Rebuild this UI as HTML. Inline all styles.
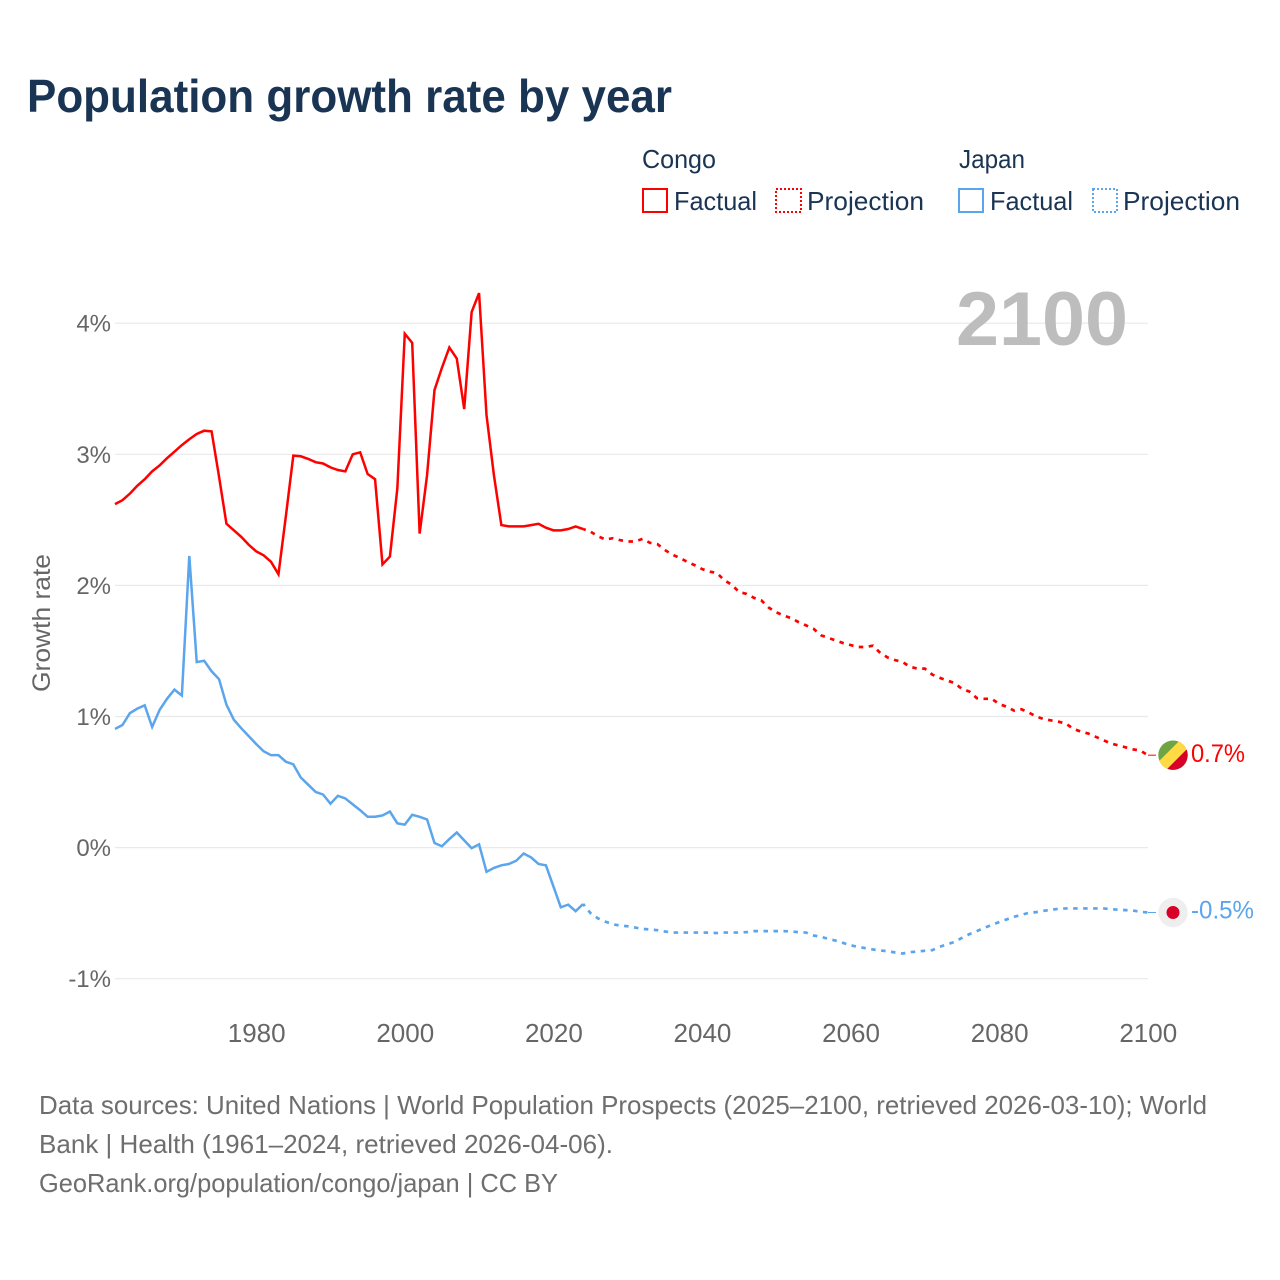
<!DOCTYPE html>
<html lang="en">
<head>
<meta charset="utf-8">
<title>Population growth rate by year</title>
<style>
html,body{margin:0;padding:0;background:#fff;}
svg{display:block;font-family:"Liberation Sans",sans-serif;}
</style>
</head>
<body>
<svg id="chart" xmlns="http://www.w3.org/2000/svg" width="1280" height="1280" viewBox="0 0 1280 1280">
  <rect x="0" y="0" width="1280" height="1280" fill="#fff"/>
  <text x="27" y="112" font-size="46" font-weight="700" fill="#1a3454" textLength="645" lengthAdjust="spacingAndGlyphs">Population growth rate by year</text>

  <g font-size="26" fill="#1a3454">
    <text x="642" y="168" textLength="74" lengthAdjust="spacingAndGlyphs">Congo</text>
    <text x="959" y="168" textLength="66" lengthAdjust="spacingAndGlyphs">Japan</text>
    <g>
      <rect x="643" y="189" width="24" height="23" fill="none" stroke="#ff0000" stroke-width="2"/>
      <text x="674" y="210" textLength="83" lengthAdjust="spacingAndGlyphs">Factual</text>
    </g>
    <g>
      <rect x="776" y="189" width="25" height="23" fill="none" stroke="#ff0000" stroke-width="2" stroke-dasharray="2 2"/>
      <text x="807" y="210" textLength="117" lengthAdjust="spacingAndGlyphs">Projection</text>
    </g>
    <g>
      <rect x="959" y="189" width="24" height="23" fill="none" stroke="#5ba5ec" stroke-width="2"/>
      <text x="990" y="210" textLength="83" lengthAdjust="spacingAndGlyphs">Factual</text>
    </g>
    <g>
      <rect x="1093" y="189" width="24" height="23" fill="none" stroke="#5ba5ec" stroke-width="2" stroke-dasharray="2 2"/>
      <text x="1123" y="210" textLength="117" lengthAdjust="spacingAndGlyphs">Projection</text>
    </g>
  </g>

  <g id="grid"></g>
  <text x="956" y="345" font-size="76" font-weight="700" fill="#bdbdbd" textLength="172" lengthAdjust="spacingAndGlyphs">2100</text>
  <g id="yticks" font-size="24" fill="#666" text-anchor="end"></g>
  <g id="xticks" font-size="26" fill="#666" text-anchor="middle"></g>
  <text transform="translate(50,623) rotate(-90)" font-size="25" fill="#666" text-anchor="middle" textLength="138" lengthAdjust="spacingAndGlyphs">Growth rate</text>
  <g id="series"></g>

  <defs>
    <clipPath id="flag-clip"><circle id="flag-clip-circle" cx="1173" cy="755" r="14.7"/></clipPath>
  </defs>
  <g id="marker-congo">
    <g clip-path="url(#flag-clip)">
      <rect id="congo-green" x="1155" y="737" width="36" height="36" fill="#6da544"/>
      <polygon id="congo-yellow" points="0,0" fill="#ffda44"/>
      <polygon id="congo-red" points="0,0" fill="#d80027"/>
    </g>
  </g>
  <g id="marker-japan">
    <circle id="japan-bg" cx="1173" cy="912" r="14.7" fill="#eeeeee"/>
    <circle id="japan-dot" cx="1173" cy="912" r="6.5" fill="#d80027"/>
  </g>
  <text id="label-congo" x="1191" y="761" font-size="25" fill="#ff0000" textLength="54" lengthAdjust="spacingAndGlyphs"></text>
  <text id="label-japan" x="1191" y="918" font-size="25" fill="#5ba5ec" textLength="63" lengthAdjust="spacingAndGlyphs"></text>

  <g font-size="26" fill="#6e6e6e">
    <text x="39" y="1114" textLength="1168" lengthAdjust="spacingAndGlyphs">Data sources: United Nations | World Population Prospects (2025–2100, retrieved 2026-03-10); World</text>
    <text x="39" y="1153" textLength="574" lengthAdjust="spacingAndGlyphs">Bank | Health (1961–2024, retrieved 2026-04-06).</text>
    <text x="39" y="1192" textLength="519" lengthAdjust="spacingAndGlyphs">GeoRank.org/population/congo/japan | CC BY</text>
  </g>
</svg>
<script>
const factualStartYear = 1961;
const projectionStartYear = 2024;
const yTickValues = [-1, 0, 1, 2, 3, 4];
const yTickLabels = ["-1%", "0%", "1%", "2%", "3%", "4%"];
const xTickValues = [1980, 2000, 2020, 2040, 2060, 2080, 2100];
const xTickLabels = ["1980", "2000", "2020", "2040", "2060", "2080", "2100"];
const endLabels = ["0.7%", "-0.5%"];

const congoFactual = [2.62,2.65,2.70,2.76,2.81,2.87,2.915,2.97,3.02,3.07,3.115,3.155,3.18,3.175,2.83,2.47,2.42,2.37,2.31,2.26,2.23,2.18,2.085,2.53,2.99,2.985,2.965,2.94,2.93,2.90,2.88,2.87,3.00,3.015,2.85,2.81,2.16,2.22,2.74,3.92,3.85,2.395,2.84,3.49,3.66,3.815,3.73,3.345,4.085,4.23,3.30,2.84,2.46,2.45,2.45,2.45,2.46,2.47,2.44,2.42,2.42,2.43,2.45,2.43];
const congoProjection = [2.43,2.41,2.375,2.35,2.36,2.345,2.335,2.335,2.355,2.325,2.315,2.27,2.235,2.21,2.18,2.155,2.125,2.105,2.095,2.04,2.005,1.95,1.935,1.905,1.885,1.83,1.795,1.77,1.75,1.72,1.695,1.67,1.62,1.6,1.58,1.56,1.545,1.53,1.53,1.54,1.485,1.45,1.43,1.415,1.38,1.365,1.365,1.32,1.295,1.275,1.255,1.21,1.19,1.14,1.135,1.135,1.095,1.075,1.045,1.055,1.03,1.0,0.98,0.97,0.96,0.945,0.905,0.885,0.87,0.845,0.82,0.795,0.78,0.765,0.75,0.74,0.705];
const japanFactual = [0.905,0.935,1.025,1.06,1.085,0.92,1.05,1.135,1.205,1.16,2.225,1.415,1.425,1.345,1.285,1.09,0.975,0.91,0.85,0.79,0.735,0.705,0.705,0.655,0.635,0.535,0.48,0.425,0.405,0.335,0.395,0.375,0.33,0.285,0.235,0.235,0.245,0.275,0.185,0.175,0.25,0.235,0.215,0.035,0.01,0.065,0.115,0.055,-0.005,0.025,-0.185,-0.155,-0.135,-0.125,-0.10,-0.045,-0.075,-0.125,-0.135,-0.295,-0.455,-0.435,-0.485,-0.43];
const japanProjection = [-0.43,-0.5,-0.54,-0.565,-0.585,-0.595,-0.6,-0.61,-0.62,-0.625,-0.63,-0.64,-0.648,-0.648,-0.648,-0.648,-0.648,-0.649,-0.652,-0.648,-0.648,-0.648,-0.645,-0.637,-0.637,-0.637,-0.637,-0.637,-0.64,-0.645,-0.648,-0.67,-0.68,-0.696,-0.71,-0.727,-0.745,-0.757,-0.767,-0.777,-0.785,-0.79,-0.8,-0.808,-0.797,-0.793,-0.787,-0.782,-0.757,-0.737,-0.72,-0.688,-0.66,-0.637,-0.612,-0.59,-0.568,-0.548,-0.528,-0.513,-0.497,-0.492,-0.482,-0.474,-0.467,-0.464,-0.464,-0.464,-0.464,-0.464,-0.464,-0.469,-0.474,-0.477,-0.48,-0.49,-0.495];

const SVGNS = "http://www.w3.org/2000/svg";
const RED = "#ff0000";
const BLUE = "#5ba5ec";
function xScale(year) { return 115 + (year - 1961) * 7.43; }
function yScale(v) { return 847.6 - v * 131.1; }
function pathFrom(values, startYear) {
  return values.map(function (v, i) {
    return (i ? "L" : "M") + xScale(startYear + i).toFixed(2) + " " + yScale(v).toFixed(2);
  }).join(" ");
}
function make(tag, attrs) {
  const el = document.createElementNS(SVGNS, tag);
  Object.keys(attrs).forEach(function (k) { el.setAttribute(k, attrs[k]); });
  return el;
}

const grid = document.getElementById("grid");
const yticks = document.getElementById("yticks");
yTickValues.forEach(function (v, i) {
  const line = make("line", { x1: 115, x2: 1148, y1: yScale(v), y2: yScale(v), stroke: "#e9e9e9", "stroke-width": 1.2 });
  
  
  grid.appendChild(line);
  const t = make("text", { x: 111, y: yScale(v) + 8.5 });
  
  
  t.textContent = yTickLabels[i];
  yticks.appendChild(t);
});

const xticks = document.getElementById("xticks");
xTickValues.forEach(function (year, i) {
  const t = make("text", { x: xScale(year) + 0.5, y: 1042 });
  
  
  t.textContent = xTickLabels[i];
  xticks.appendChild(t);
});

const seriesGroup = document.getElementById("series");

const congoSolid = make("path", { d: pathFrom(congoFactual, factualStartYear), fill: "none", stroke: RED, "stroke-width": 2.5, "stroke-linejoin": "miter" });


seriesGroup.appendChild(congoSolid);

const congoDash = make("path", { d: pathFrom(congoProjection, projectionStartYear), fill: "none", stroke: RED, "stroke-width": 2.7, "stroke-dasharray": "4.5 5.5", "stroke-dashoffset": 1.7 });


seriesGroup.appendChild(congoDash);

const japanSolid = make("path", { d: pathFrom(japanFactual, factualStartYear), fill: "none", stroke: BLUE, "stroke-width": 2.5, "stroke-linejoin": "miter" });


seriesGroup.appendChild(japanSolid);

const japanDash = make("path", { d: pathFrom(japanProjection, projectionStartYear), fill: "none", stroke: BLUE, "stroke-width": 2.7, "stroke-dasharray": "4.5 5.5", "stroke-dashoffset": 1.7 });


seriesGroup.appendChild(japanDash);

const congoEnd = yScale(congoProjection[congoProjection.length - 1]);
const japanEnd = yScale(japanProjection[japanProjection.length - 1]);

const congoLink = make("line", { x1: 1148, x2: 1156, y1: congoEnd, y2: congoEnd, stroke: RED, "stroke-width": 1 });


seriesGroup.appendChild(congoLink);

const japanLink = make("line", { x1: 1148, x2: 1156, y1: japanEnd, y2: japanEnd, stroke: BLUE, "stroke-width": 1 });


seriesGroup.appendChild(japanLink);

// Markers and end labels follow the last projected value.
const cy = congoEnd;
document.getElementById("flag-clip-circle").setAttribute("cy", cy);
document.getElementById("congo-green").setAttribute("y", cy - 18);
document.getElementById("congo-yellow").setAttribute("points",
  [[1173 - 20, cy + 12], [1173 + 12, cy - 20], [1173 + 28, cy - 20], [1173 + 28, cy - 20], [1173 - 20, cy + 28]].map(function (p) { return p.join(","); }).join(" "));
document.getElementById("congo-red").setAttribute("points",
  [[1173 - 20, cy + 28], [1173 + 28, cy - 20], [1173 + 28, cy + 28]].map(function (p) { return p.join(","); }).join(" "));
document.getElementById("japan-bg").setAttribute("cy", japanEnd);
document.getElementById("japan-dot").setAttribute("cy", japanEnd);

const labelCongo = document.getElementById("label-congo");
labelCongo.setAttribute("y", congoEnd + 7);
labelCongo.textContent = endLabels[0];
const labelJapan = document.getElementById("label-japan");
labelJapan.setAttribute("y", japanEnd + 6);
labelJapan.textContent = endLabels[1];
</script>
</body>
</html>
